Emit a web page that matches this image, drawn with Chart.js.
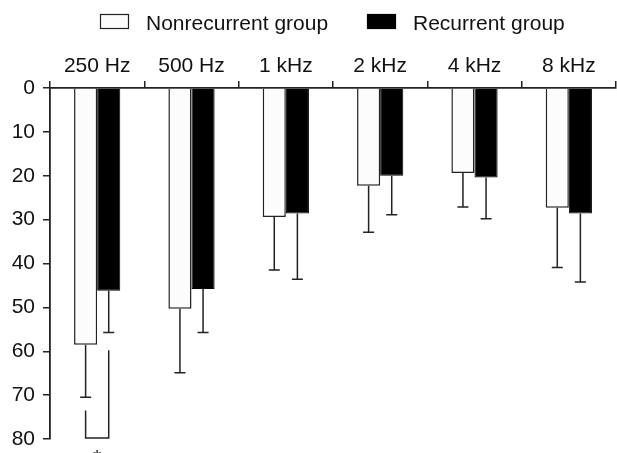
<!DOCTYPE html>
<html>
<head>
<meta charset="utf-8">
<script src="https://cdn.jsdelivr.net/npm/chart.js@4/dist/chart.umd.min.js"></script>
<style>
  body { margin: 0; background: #fff; }
  #wrap { width: 617px; height: 453px; position: relative; }
</style>
</head>
<body>
<div id="wrap"><canvas id="myChart"></canvas></div>
<script>
// hearing thresholds (dB) per frequency
var freqs = ["250 Hz", "500 Hz", "1 kHz", "2 kHz", "4 kHz", "8 kHz"];
var nonrecMean = [58.5, 50.3, 29.4, 22.3, 19.4, 27.3];
var nonrecSD = [12.0, 14.6, 12.1, 10.6, 7.7, 13.6];
var recMean = [46.2, 45.8, 28.6, 20.0, 20.4, 28.6];
var recSD = [9.5, 9.9, 15.0, 8.9, 9.4, 15.6];
var yTicks = [0, 10, 20, 30, 40, 50, 60, 70, 80];
// significance bracket at 250 Hz: left start, right start, bottom level
var sigBracket = [73.5, 59.8, 79.8];

var ink = "#222";
var font = "'Liberation Sans', Arial, Helvetica, sans-serif";

var errorBars = {
  id: "errorBars",
  afterDatasetsDraw: function(chart) {
    var ctx = chart.ctx;
    var ys = chart.scales.y;
    var sds = [nonrecSD, recSD];
    ctx.save();
    ctx.strokeStyle = ink;
    ctx.lineWidth = 1.5;
    chart.data.datasets.forEach(function(ds, i) {
      var meta = chart.getDatasetMeta(i);
      meta.data.forEach(function(bar, j) {
        var y0 = ys.getPixelForValue(ds.data[j]);
        var y1 = ys.getPixelForValue(ds.data[j] + sds[i][j]);
        ctx.beginPath();
        ctx.moveTo(bar.x, y0);
        ctx.lineTo(bar.x, y1);
        ctx.moveTo(bar.x - 5.5, y1);
        ctx.lineTo(bar.x + 5.5, y1);
        ctx.stroke();
      });
    });
    // bracket + asterisk
    var a = chart.getDatasetMeta(0).data[0].x;
    var b = chart.getDatasetMeta(1).data[0].x;
    var yl = ys.getPixelForValue(sigBracket[2]);
    ctx.beginPath();
    ctx.moveTo(a, ys.getPixelForValue(sigBracket[0]));
    ctx.lineTo(a, yl);
    ctx.lineTo(b, yl);
    ctx.lineTo(b, ys.getPixelForValue(sigBracket[1]));
    ctx.stroke();
    ctx.fillStyle = "#111";
    ctx.font = "21px " + font;
    ctx.textAlign = "center";
    ctx.textBaseline = "alphabetic";
    ctx.fillText("*", (a + b) / 2, 464);
    ctx.restore();
  }
};

var topLegend = {
  id: "topLegend",
  afterDraw: function(chart) {
    var ctx = chart.ctx;
    var items = [[100, 146], [367, 413]];
    ctx.save();
    ctx.font = "21px " + font;
    ctx.textAlign = "left";
    ctx.textBaseline = "alphabetic";
    chart.data.datasets.forEach(function(ds, i) {
      var bx = items[i][0];
      ctx.fillStyle = ds.backgroundColor;
      ctx.fillRect(bx, 14, 29, 15);
      ctx.strokeStyle = ds.borderColor;
      ctx.lineWidth = 1.2;
      ctx.strokeRect(bx + 0.5, 14.5, 28, 14);
      ctx.fillStyle = "#111";
      ctx.fillText(ds.label, items[i][1], 30);
    });
    ctx.restore();
  }
};

new Chart("myChart", {
  type: "bar",
  data: {
    labels: freqs,
    datasets: [{
      label: "Nonrecurrent group",
      data: nonrecMean,
      backgroundColor: "#fcfcfc",
      borderColor: ink,
      borderWidth: 1.5
    }, {
      label: "Recurrent group",
      data: recMean,
      backgroundColor: "#000",
      borderColor: "#000",
      borderWidth: 1
    }]
  },
  options: {
    responsive: true,
    maintainAspectRatio: false,
    animation: false,
    layout: { padding: { top: 40, right: 1, bottom: 14, left: 0 } },
    datasets: { bar: { categoryPercentage: 0.49, barPercentage: 1 } },
    plugins: { legend: { display: false }, tooltip: { enabled: false } },
    scales: {
      x: {
        position: "top",
        offset: true,
        afterFit: function(s) { s.height = 48; },
        grid: { offset: true, drawOnChartArea: false, tickLength: 7, color: ink, lineWidth: 1.5 },
        border: { color: ink, width: 1.8 },
        ticks: { color: "#111", padding: 2, font: { size: 21, family: font } }
      },
      y: {
        reverse: true,
        min: 0,
        max: 80,
        afterFit: function(s) { s.width = 50; s.paddingTop = 0; s.paddingBottom = 0; },
        afterBuildTicks: function(s) { s.ticks = yTicks.map(function(v) { return { value: v }; }); },
        grid: { drawOnChartArea: false, tickLength: 7, color: ink, lineWidth: 1.5 },
        border: { color: ink, width: 1.8 },
        ticks: { color: "#111", padding: 8, font: { size: 21, family: font } }
      }
    }
  },
  plugins: [errorBars, topLegend]
});
</script>
</body>
</html>
